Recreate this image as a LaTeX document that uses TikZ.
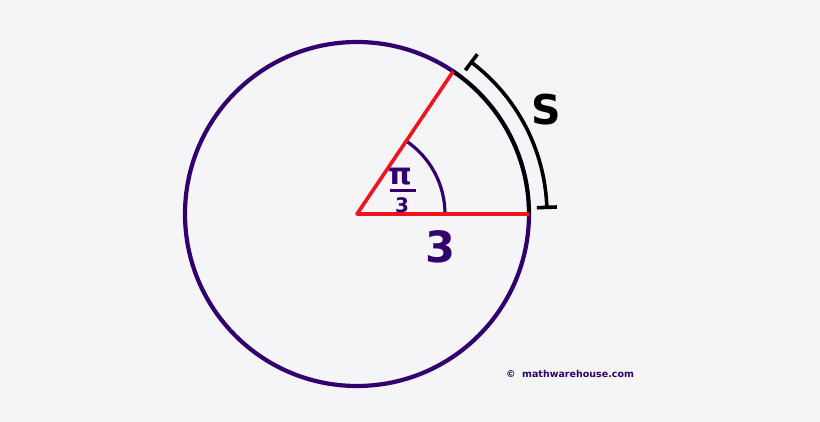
\documentclass[tikz,border=0pt]{standalone}
\usepackage{fontspec}
\setmainfont{DejaVu Sans}
\definecolor{MwPurple}{RGB}{50, 0, 110}
\definecolor{MwRed}{RGB}{240, 20, 30}
\definecolor{MwBack}{RGB}{245, 245, 247}
\begin{document}
\begin{tikzpicture}[x=1pt, y=1pt]
      \tikzstyle{rim}=[MwPurple, line width=4.2pt];
      \tikzstyle{ray}=[MwRed, line width=3.6pt, line join=round];
      \tikzstyle{arclen}=[black, line width=3.6pt];
      \tikzstyle{lbl}=[inner sep=0pt, anchor=base];

      \fill[MwBack] (-357, -208) rectangle (463, 214);
      \useasboundingbox (-357, -208) rectangle (463, 214);

      \coordinate (c) at (0, 0);
      \coordinate (r) at (172, 0);
      \coordinate (tr) at (56:172);
      \coordinate (sb) at (2:190);
      \coordinate (st) at (53:190);

      \draw[rim] (c) circle (172pt);
      \draw[arclen] (r) arc (0:56:172pt);
      \draw[MwPurple, line width=3.2pt] (88, 0) arc (0:56:88pt);
      \draw[ray] (r) -- (c) -- (tr);

      % arc length bracket
      \draw[arclen] (sb) arc (2:53:190pt);
      \draw[arclen] (2:180) -- (2:200);
      \draw[arclen] (53:180) -- (53:200);

      \node[lbl, MwPurple, font=\bfseries\fontsize{30}{30}\selectfont] (pi) at (43, 29) {π};
      \node[lbl, MwPurple, font=\bfseries\fontsize{20}{20}\selectfont] (den) at (45, 1) {3};
      \draw[MwPurple, line width=3pt] (33, 23) -- (59, 23);

      \node[lbl, MwPurple, font=\bfseries\fontsize{43}{43}\selectfont] (rad) at (83, -49) {3};
      \node[lbl, font=\bfseries\fontsize{41}{41}\selectfont] (s) at (189, 89) {S};
      \node[MwPurple, font=\bfseries\fontsize{9.5}{9.5}\selectfont] (copy) at (213, -160) {©\ \ mathwarehouse.com};
\end{tikzpicture}
\end{document}
